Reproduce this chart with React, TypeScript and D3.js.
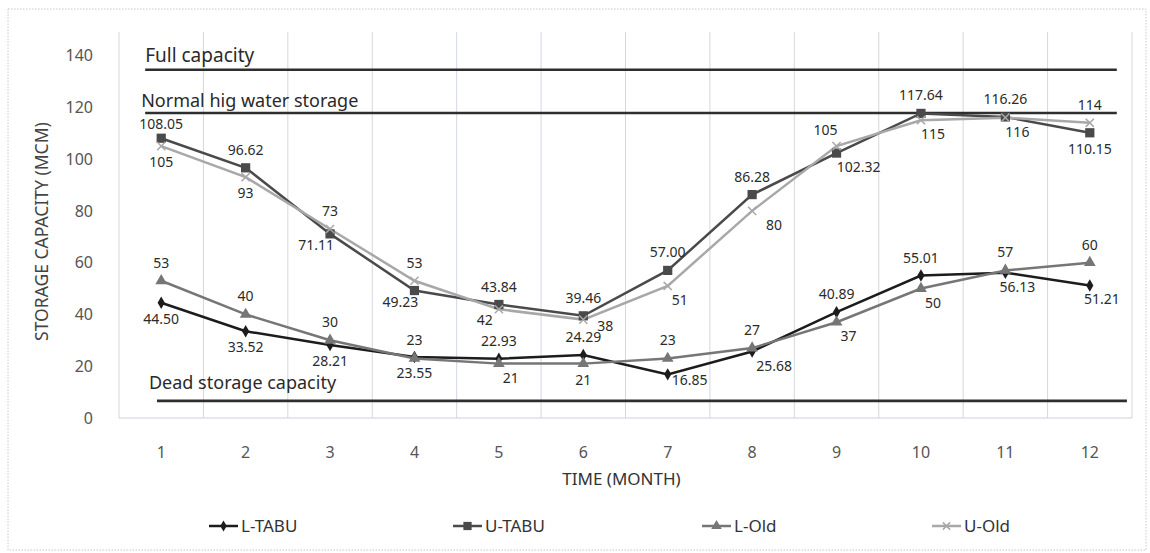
import React from "react";
import * as d3 from "d3";

const months = [1, 2, 3, 4, 5, 6, 7, 8, 9, 10, 11, 12];
const lTabu = [44.5, 33.52, 28.21, 23.55, 22.93, 24.29, 16.85, 25.68, 40.89, 55.01, 56.13, 51.21];
const uTabu = [108.05, 96.62, 71.11, 49.23, 43.84, 39.46, 57.0, 86.28, 102.32, 117.64, 116.26, 110.15];
const lOld = [53, 40, 30, 23, 21, 21, 23, 27, 37, 50, 57, 60];
const uOld = [105, 93, 73, 53, 42, 38, 51, 80, 105, 115, 116, 114];
const yTicks = [0, 20, 40, 60, 80, 100, 120, 140];
const seriesNames = ["L-TABU", "U-TABU", "L-Old", "U-Old"];
const labelFormats = ["fixed2", "fixed2", "int", "int"];

// reference levels: value and horizontal extent (in month units)
const refNames = ["Full capacity", "Normal hig water storage", "Dead storage capacity"];
const refValues = [134.5, 117.8, 6.6];
const refStarts = [0.81, 0.81, 0.95];
const refEnds = [12.32, 12.32, 12.44];

// label placement codes per series
const placeLTabu = ["b", "b", "b", "b", "t", "t", "r", "brr", "t", "t", "br", "br"];
const placeUTabu = ["t2", "t", "bl", "bl", "t", "t", "t", "t", "brr", "t", "t", "b"];
const placeLOld = ["t", "t", "t", "t", "br", "b", "t", "t", "br", "br", "t", "t"];
const placeUOld = ["b", "b", "t", "t", "bl", "r", "br", "brr", "tl", "br", "br", "t"];

const OFFSETS: Record<string, [number, number]> = {
  t: [0, -18],
  t2: [0, -14],
  b: [0, 16],
  bl: [-14, 11],
  br: [12, 14],
  brr: [22, 14],
  r: [22, 6],
  tl: [-11, -16],
};

const FONT = "'Noto Sans', 'Open Sans', sans-serif";

export default function App() {
  const W = 1150;
  const H = 553;
  const left = 119;
  const right = 1132;
  const x = d3.scaleBand<number>().domain(months).range([left, right]).padding(0);
  const xm = d3.scaleLinear().domain([0.5, 12.5]).range([left, right]);
  const y = d3.scaleLinear().domain([0, 150]).range([418, 29.6]);
  const cx = (m: number) => (x(m) as number) + x.bandwidth() / 2;

  const series = [
    { name: seriesNames[0], values: lTabu, place: placeLTabu, fmt: labelFormats[0], color: "#1c1c1c", sym: d3.symbolDiamond, size: 45, stroke: false },
    { name: seriesNames[1], values: uTabu, place: placeUTabu, fmt: labelFormats[1], color: "#4a4a4a", sym: d3.symbolSquare, size: 85, stroke: false },
    { name: seriesNames[2], values: lOld, place: placeLOld, fmt: labelFormats[2], color: "#767676", sym: d3.symbolTriangle, size: 60, stroke: false },
    { name: seriesNames[3], values: uOld, place: placeUOld, fmt: labelFormats[3], color: "#a8a8a8", sym: d3.symbolX, size: 45, stroke: true },
  ];

  const line = d3
    .line<number>()
    .x((_, i) => cx(months[i]))
    .y((v) => y(v));

  const gridX = d3.range(months.length + 1).map((i) => left + i * x.bandwidth());

  const legendX = [209, 453, 702, 932];
  const legendY = 526;

  const refLabelDy = [-8, -6, -12];
  const refLabelDx = [0, -4, -8];
  const refSize = [19, 18, 18];

  return (
    <svg
      width={W}
      height={H}
      style={{ position: "absolute", left: 0, top: 0, background: "#fff", fontFamily: FONT }}
    >
      <rect x={8} y={9} width={1138} height={541} fill="none" stroke="#c8c8c8" strokeDasharray="1.5,1.5" strokeWidth={1} />
      {gridX.map((gx, i) => (
        <line key={"g" + i} x1={gx} x2={gx} y1={32} y2={418} stroke="#d4d7e2" strokeWidth={1} />
      ))}
      <line x1={left} x2={right} y1={y(0)} y2={y(0)} stroke="#cfd1dc" strokeWidth={1.2} />

      {yTicks.map((t) => (
        <text key={"yt" + t} x={93} y={y(t)} dy="0.36em" textAnchor="end" fontSize={16} fill="#555">
          {t}
        </text>
      ))}
      {months.map((m) => (
        <text key={"xt" + m} x={cx(m)} y={452} dy="0.36em" textAnchor="middle" fontSize={16} fill="#555">
          {m}
        </text>
      ))}
      <text
        transform={`translate(42, ${y(72)}) rotate(-90)`}
        textAnchor="middle"
        dy="0.36em"
        fontSize={17.5}
        fill="#444"
      >
        STORAGE CAPACITY (MCM)
      </text>
      <text x={(left + right) / 2 - 4} y={479} dy="0.36em" textAnchor="middle" fontSize={17} fill="#333">
        TIME (MONTH)
      </text>

      {refNames.map((n, i) => (
        <g key={"ref" + i}>
          <line
            x1={xm(refStarts[i])}
            x2={xm(refEnds[i])}
            y1={y(refValues[i])}
            y2={y(refValues[i])}
            stroke="#2e2e2e"
            strokeWidth={2.6}
          />
          <text
            x={xm(refStarts[i]) + refLabelDx[i]}
            y={y(refValues[i]) + refLabelDy[i]}
            fontSize={refSize[i]}
            fill="#2a2a2a"
          >
            {n}
          </text>
        </g>
      ))}

      {series.map((s) => (
        <path key={"l" + s.name} d={line(s.values) || ""} fill="none" stroke={s.color} strokeWidth={2.5} />
      ))}
      {series.map((s) =>
        s.values.map((v, i) => (
          <path
            key={"m" + s.name + i}
            transform={`translate(${cx(months[i])},${y(v)})`}
            d={d3.symbol().type(s.sym).size(s.size)() || ""}
            fill={s.stroke ? "none" : s.color}
            stroke={s.stroke ? s.color : "none"}
            strokeWidth={1.5}
          />
        ))
      )}
      {series.map((s) =>
        s.values.map((v, i) => {
          const [dx, dy] = OFFSETS[s.place[i]];
          const txt = s.fmt === "fixed2" ? v.toFixed(2) : String(v);
          return (
            <text
              key={"t" + s.name + i}
              x={cx(months[i]) + dx}
              y={y(v) + dy}
              dy="0.36em"
              textAnchor="middle"
              fontSize={14}
              fill="#2b2b2b"
            >
              {txt}
            </text>
          );
        })
      )}

      {series.map((s, i) => (
        <g key={"lg" + s.name} transform={`translate(${legendX[i]},${legendY})`}>
          <line x1={0} x2={29} y1={0} y2={0} stroke={s.color} strokeWidth={2.5} />
          <path
            transform="translate(14.5,0)"
            d={d3.symbol().type(s.sym).size(s.size * 0.8)() || ""}
            fill={s.stroke ? "none" : s.color}
            stroke={s.stroke ? s.color : "none"}
            strokeWidth={1.5}
          />
          <text x={32} y={0} dy="0.36em" fontSize={17} fill="#333">
            {s.name}
          </text>
        </g>
      ))}
    </svg>
  );
}
